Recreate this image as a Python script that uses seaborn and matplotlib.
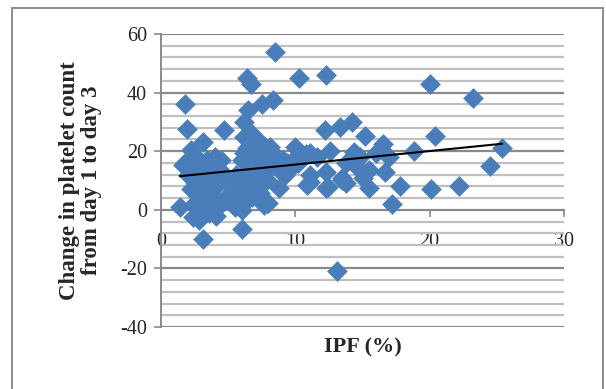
"""Scatter of change in platelet count (day 1 -> day 3) against IPF (%),
Excel-style: diamond markers, linear trendline, y axis crossing at x=0.
"""
import matplotlib
matplotlib.use("Agg")
import matplotlib.pyplot as plt
from matplotlib.patches import Rectangle
from matplotlib.ticker import MultipleLocator
import pandas as pd
import seaborn as sns

# IPF (%) and change in platelet count
ipf = [
    8.5, 6.4, 6.7, 10.3, 12.3, 20.0, 23.2, 1.8, 8.3, 7.5, 6.5, 1.9, 4.7, 12.2,
    13.3, 14.2, 6.2, 6.2,
    15.2, 20.4, 16.5, 14.4, 18.8, 25.4, 17.0, 24.5, 13.8, 14.6, 15.5, 16.7,
    15.5, 17.8, 20.1, 22.2, 17.2, 14.8,
    8.1, 10.0, 11.1, 7.4, 9.8, 8.8, 11.1, 12.3, 13.5, 14.6, 7.9, 8.8, 10.9,
    12.3, 13.8, 15.0, 8.0, 7.4, 11.1, 12.4, 13.5, 13.1,
    3.1, 2.2, 4.0, 1.6, 3.3, 4.5, 6.2, 6.5, 7.7, 2.5, 4.0, 5.3, 7.2, 1.4,
    2.5, 2.8, 3.8, 6.0, 6.0, 3.1, 7.7, 5.3, 6.8, 2.4, 3.6, 7.9,
    1.8, 2.6, 3.4, 4.3, 2.0, 2.9, 3.6, 4.8, 5.6, 6.3, 6.6, 6.9, 7.1, 6.4,
    5.9, 6.6, 7.3, 7.8, 8.4, 8.9, 9.4, 9.6, 10.4, 10.8, 5.0, 4.5, 3.3, 2.8,
    2.2, 4.1, 5.5, 6.3, 6.9, 7.6, 8.2, 9.1, 6.0, 6.8, 7.1, 6.4, 3.9, 2.3,
    3.0, 5.6, 7.5, 12.6, 11.6, 9.2, 10.2, 16.0, 3.8, 2.7,
]
platelet_change = [
    54, 45, 43, 45, 46, 43, 38, 36, 37.5, 36, 34, 27.5, 27.3, 27.3,
    28.3, 30, 30, 25,
    25.3, 25.3, 22.5, 19.8, 20, 21, 18, 15, 16, 15, 13.7, 13,
    7.5, 8.2, 7.2, 8.2, 2.0, 18,
    21.5, 21.5, 19.4, 19.5, 17, 13.7, 12, 13, 11, 14.7, 10.2, 7.5, 8.5,
    7.5, 9.2, 11, 2.4, 5.8, 9.5, 7.9, 10.2, -20.8,
    23, 20.5, 18, 15.4, 16, 17, 19.5, 13.7, 16, 9.6, 7.9, 7.9, 7.9, 1,
    2.4, -3.4, 0, 0, -6.5, -9.8, 1.7, 3.4, 4.4, -2.4, -1, 2.4,
    16, 18, 17, 14, 12, 13, 10, 11, 12, 16, 22, 18, 14, 10,
    6, 7, 11, 13, 18, 15.5, 16, 14, 18, 19, 5, 2, 4, 6,
    7, -2, 1, 3, 12, 22, 20, 17, 17, 26, 24, 21, 12, 16,
    8, 9, 9, 20, 18, 12, 16, 19.5, 5, 0.5,
]

df = pd.DataFrame({"ipf": ipf, "change": platelet_change})

sns.set_style("white")
plt.rcParams["font.family"] = ["Liberation Serif", "DejaVu Serif"]
plt.rcParams["axes.unicode_minus"] = False

fig = plt.figure(figsize=(6.06, 3.89), dpi=100)
ax = fig.add_axes([0.2657, 0.1594, 0.665, 0.7532])

# horizontal gridlines: major every 20 (darker), minor every 4 (lighter)
ax.yaxis.set_major_locator(MultipleLocator(20))
ax.yaxis.set_minor_locator(MultipleLocator(4))
ax.grid(which="minor", axis="y", color="#bfbfbf", lw=1.6, zorder=0)
ax.grid(which="major", axis="y", color="#8a8a8a", lw=1.6, zorder=0)
ax.grid(False, axis="x")
ax.set_axisbelow(True)

sns.scatterplot(data=df, x="ipf", y="change", marker="D", s=105,
                color="#4a7ebb", edgecolor="#4a7ebb", linewidth=0.3,
                ax=ax, zorder=3, legend=False)
sns.regplot(data=df, x="ipf", y="change", scatter=False, ci=None,
            truncate=True, color="black", line_kws={"lw": 1.5, "zorder": 4},
            ax=ax)

ax.set_xlim(0, 30)
ax.set_ylim(-40, 60)
ax.xaxis.set_major_locator(MultipleLocator(10))

for side in ("top", "right"):
    ax.spines[side].set_visible(False)
ax.spines["bottom"].set_position(("data", 0))
ax.spines["bottom"].set_color("#8a8a8a")
ax.spines["bottom"].set_linewidth(1.4)
ax.spines["left"].set_color("#8a8a8a")
ax.spines["left"].set_linewidth(1.4)
ax.spines["bottom"].set_zorder(2)

ax.tick_params(axis="y", which="major", direction="out", length=5, width=1.2,
               color="#8a8a8a", pad=5, labelsize=14.5, left=True)
ax.tick_params(axis="y", which="minor", length=0)
ax.tick_params(axis="x", which="major", direction="out", length=5, width=1.2,
               color="#8a8a8a", pad=11, labelsize=14.5, bottom=True)

ax.set_xlabel("IPF (%)", fontsize=16, fontweight="bold")
ax.xaxis.set_label_coords(0.5, -0.035)
ax.set_ylabel("Change in platelet count\nfrom day 1 to day 3", fontsize=16.5,
              fontweight="bold", linespacing=1.1)
ax.yaxis.set_label_coords(-0.146, 0.5)

# chart-area border, as in the spreadsheet export
fig.patches.append(Rectangle((0.02, -0.01), 0.975, 0.9997 - 0.01, fill=False,
                             transform=fig.transFigure, edgecolor="#8c8c8c",
                             lw=1.4))

fig.savefig("out.png", dpi=100)
